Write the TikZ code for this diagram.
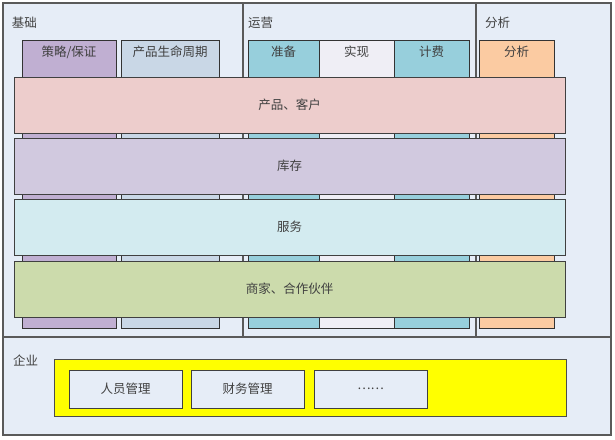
\documentclass[tikz,border=0pt]{standalone}
\usepackage{fontspec}
\newfontfamily\cjk{Noto Sans CJK SC}
\definecolor{secbg}{HTML}{E6EDF7}
\definecolor{frame}{HTML}{5A5A5A}
\definecolor{txt}{HTML}{404040}
\definecolor{cpurple}{HTML}{C0AFD2}
\definecolor{cgray}{HTML}{C9D7E6}
\definecolor{cteal}{HTML}{97CFDC}
\definecolor{cwhite}{HTML}{EFEEF5}
\definecolor{corange}{HTML}{FBCBA2}
\definecolor{bpink}{HTML}{EDCDCC}
\definecolor{blav}{HTML}{D1C9DF}
\definecolor{bcyan}{HTML}{D3EBF0}
\definecolor{bgreen}{HTML}{CCDBAC}
\definecolor{yel}{HTML}{FFFF00}
\begin{document}
\begin{tikzpicture}[x=1pt,y=-1pt,
  every node/.style={font=\cjk\fontsize{12.5}{14}\selectfont, text=txt, inner sep=0pt, outer sep=0pt},
  section/.style={draw=frame, line width=1.3pt, fill=secbg, rectangle, anchor=north west},
  colbox/.style={draw=black!80, line width=0.9pt, rectangle, anchor=north west, minimum width=#1, minimum height=288},
  bar/.style={draw=black!75, line width=0.9pt, rectangle, anchor=north west, minimum width=551, minimum height=56},
  inbox/.style={draw=black!75, line width=0.9pt, fill=secbg, rectangle, anchor=north west, minimum width=113, minimum height=38},
  slabel/.style={anchor=west},
  clabel/.style={anchor=center}
]
\useasboundingbox (0,0) rectangle (615,439);
\fill[white] (0,0) rectangle (615,439);
% sections
\node[section, minimum width=240, minimum height=334] (s1) at (3,3) {};
\node[section, minimum width=233, minimum height=334] (s2) at (243,3) {};
\node[section, minimum width=135, minimum height=334] (s3) at (476,3) {};
\node[section, minimum width=608, minimum height=98] (s4) at (3,337) {};
\node[slabel] (l1) at (12,23) {基础};
\node[slabel] (l2) at (248,23) {运营};
\node[slabel] (l3) at (485,23) {分析};
\node[slabel] (l4) at (13,361) {企业};
% columns
\node[colbox=94, fill=cpurple] (c1) at (22,40) {};
\node[colbox=98, fill=cgray] (c2) at (121,40) {};
\node[colbox=71, fill=cteal] (c3) at (248,40) {};
\node[colbox=75, fill=cwhite] (c4) at (319,40) {};
\node[colbox=75, fill=cteal] (c5) at (394,40) {};
\node[colbox=75, fill=corange] (c6) at (479,40) {};
\node[clabel] (t1) at ([yshift=-12]c1.north) {策略/保证};
\node[clabel] (t2) at ([yshift=-12]c2.north) {产品生命周期};
\node[clabel] (t3) at ([yshift=-12]c3.north) {准备};
\node[clabel] (t4) at ([yshift=-12]c4.north) {实现};
\node[clabel] (t5) at ([yshift=-12]c5.north) {计费};
\node[clabel] (t6) at ([yshift=-12]c6.north) {分析};
% bars
\node[bar, fill=bpink] (b1) at (14,77) {产品、客户};
\node[bar, fill=blav] (b2) at (14,138) {库存};
\node[bar, fill=bcyan] (b3) at (14,199) {服务};
\node[bar, fill=bgreen] (b4) at (14,261) {商家、合作伙伴};
% enterprise
\node[draw=black!70, line width=0.9pt, fill=yel, rectangle, anchor=north west, minimum width=512, minimum height=57] (y) at (54,359) {};
\node[inbox] (e1) at (69,370) {人员管理};
\node[inbox] (e2) at (191,370) {财务管理};
\node[inbox] (e3) at (314,370) {……};
\end{tikzpicture}
\end{document}
